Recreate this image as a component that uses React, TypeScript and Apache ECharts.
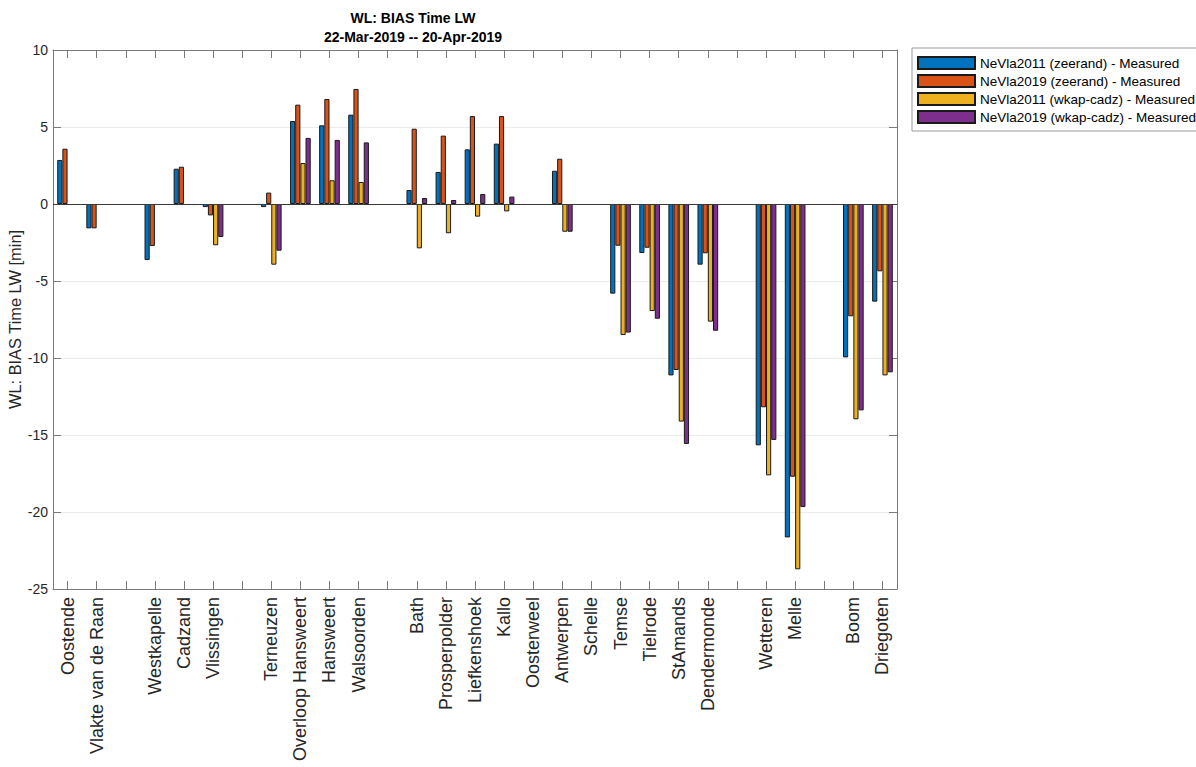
import React, { useEffect, useRef } from "react";
import * as echarts from "echarts";

const categories: string[] = [
  "Oostende", "Vlakte van de Raan", "", "Westkapelle", "Cadzand", "Vlissingen", "",
  "Terneuzen", "Overloop Hansweert", "Hansweert", "Walsoorden", "",
  "Bath", "Prosperpolder", "Liefkenshoek", "Kallo", "Oosterweel", "Antwerpen", "Schelle",
  "Temse", "Tielrode", "StAmands", "Dendermonde", "", "Wetteren", "Melle", "", "Boom", "Driegoten",
];

const seriesNames: string[] = [
  "NeVla2011 (zeerand) - Measured",
  "NeVla2019 (zeerand) - Measured",
  "NeVla2011 (wkap-cadz) - Measured",
  "NeVla2019 (wkap-cadz) - Measured",
];

const nevla2011Zeerand: (number | null)[] = [
  2.86, -1.58, null, -3.64, 2.29, -0.2, null, -0.2, 5.39, 5.11, 5.8, null,
  0.91, 2.08, 3.55, 3.92, null, 2.16, null, -5.82, -3.18, -11.13, -3.94, null,
  -15.67, -21.65, null, -9.96, -6.34,
];
const nevla2019Zeerand: (number | null)[] = [
  3.59, -1.58, null, -2.73, 2.42, -0.74, null, 0.74, 6.45, 6.82, 7.47, null,
  4.89, 4.44, 5.71, 5.71, null, 2.94, null, -2.71, -2.84, -10.78, -3.2, null,
  -13.2, -17.71, null, -7.29, -4.37,
];
const nevla2011Wkap: (number | null)[] = [
  null, null, null, null, null, -2.68, null, -3.94, 2.66, 1.54, 1.43, null,
  -2.88, -1.9, -0.82, -0.48, null, -1.8, null, -8.51, -6.95, -14.13, -7.64, null,
  -17.62, -23.72, null, -13.98, -11.13,
];
const nevla2019Wkap: (number | null)[] = [
  null, null, null, null, null, -2.14, null, -3.03, 4.29, 4.16, 4.0, null,
  0.39, 0.26, 0.65, 0.48, null, -1.8, null, -8.35, -7.45, -15.58, -8.23, null,
  -15.32, -19.68, null, -13.4, -10.93,
];

const colors = ["#0072BD", "#D95319", "#EDB120", "#7E2F8E"];
const FONT = "'Liberation Sans', Arial, Helvetica, sans-serif";
const AXIS_COLOR = "#7a7a7a";
const TEXT_COLOR = "#262626";

export default function App() {
  const ref = useRef<HTMLDivElement>(null);

  useEffect(() => {
    if (!ref.current) return;
    const chart = echarts.init(ref.current, undefined, { renderer: "svg" });
    const allData = [nevla2011Zeerand, nevla2019Zeerand, nevla2011Wkap, nevla2019Wkap];

    const option: any = {
      animation: false,
      backgroundColor: "#ffffff",
      textStyle: { fontFamily: FONT },
      graphic: [
        {
          type: "text",
          style: {
            text: "WL: BIAS Time LW",
            x: 413,
            y: 18,
            textAlign: "center",
            textVerticalAlign: "middle",
            font: `bold 14px ${FONT}`,
            fill: "#000",
          },
        },
        {
          type: "text",
          style: {
            text: "22-Mar-2019 -- 20-Apr-2019",
            x: 413,
            y: 37,
            textAlign: "center",
            textVerticalAlign: "middle",
            font: `bold 14px ${FONT}`,
            fill: "#000",
          },
        },
      ],
      legend: {
        orient: "vertical",
        left: 912,
        top: 48,
        padding: [8, 6, 7, 5],
        itemWidth: 57,
        itemHeight: 12,
        itemGap: 4,
        icon: "rect",
        borderColor: "#999",
        borderWidth: 1,
        backgroundColor: "#fff",
        textStyle: { fontSize: 13.5, color: "#000", fontFamily: FONT },
        data: seriesNames,
      },
      grid: {
        left: 53,
        right: 299,
        top: 50,
        bottom: 178,
        containLabel: false,
        outerBoundsMode: "none",
      },
      xAxis: [
        {
          type: "category",
          data: categories,
          position: "bottom",
          boundaryGap: true,
          axisLine: { show: true, onZero: false, lineStyle: { color: AXIS_COLOR, width: 1 } },
          axisTick: { show: true, inside: true, length: 8, alignWithLabel: true, interval: 0, lineStyle: { color: AXIS_COLOR } },
          axisLabel: {
            interval: 0,
            rotate: 90,
            fontSize: 18,
            color: TEXT_COLOR,
            margin: 8,
            fontFamily: FONT,
          },
          splitLine: { show: false },
        },
        {
          type: "category",
          data: categories,
          position: "top",
          boundaryGap: true,
          axisLine: { show: true, onZero: false, lineStyle: { color: AXIS_COLOR, width: 1 } },
          axisTick: { show: true, inside: true, length: 8, alignWithLabel: true, interval: 0, lineStyle: { color: AXIS_COLOR } },
          axisLabel: { show: false },
          splitLine: { show: false },
        },
      ],
      yAxis: [
        {
          type: "value",
          min: -25,
          max: 10,
          interval: 5,
          position: "left",
          name: "WL: BIAS Time LW [min]",
          nameLocation: "middle",
          nameGap: 30,
          nameRotate: 90,
          nameMoveOverlap: false,
          nameTextStyle: { fontSize: 16.4, color: TEXT_COLOR, fontFamily: FONT },
          axisLine: { show: true, onZero: false, lineStyle: { color: AXIS_COLOR, width: 1 } },
          axisTick: { show: true, inside: true, length: 8, lineStyle: { color: AXIS_COLOR } },
          axisLabel: { fontSize: 14, color: TEXT_COLOR, margin: 5, fontFamily: FONT },
          splitLine: { show: true, lineStyle: { color: "#ebebeb", width: 1 } },
        },
        {
          type: "value",
          min: -25,
          max: 10,
          interval: 5,
          position: "right",
          axisLine: { show: true, onZero: false, lineStyle: { color: AXIS_COLOR, width: 1 } },
          axisTick: { show: true, inside: true, length: 8, lineStyle: { color: AXIS_COLOR } },
          axisLabel: { show: false },
          splitLine: { show: false },
        },
      ],
      series: seriesNames.map((name, i) => ({
        name,
        type: "bar",
        xAxisIndex: 0,
        yAxisIndex: 0,
        data: allData[i],
        barGap: "0%",
        barCategoryGap: "29%",
        itemStyle: { color: colors[i], borderColor: "#1a1a1a", borderWidth: 1 },
        emphasis: { disabled: true },
        ...(i === 0
          ? {
              markLine: {
                silent: true,
                symbol: "none",
                label: { show: false },
                lineStyle: { color: "#3a3a3a", width: 1, type: "solid" },
                data: [{ yAxis: 0 }],
              },
            }
          : {}),
      })),
    };

    chart.setOption(option);
    return () => {
      chart.dispose();
    };
  }, []);

  return (
    <div
      ref={ref}
      style={{ position: "absolute", left: 0, top: 0, width: 1196, height: 767 }}
    />
  );
}
